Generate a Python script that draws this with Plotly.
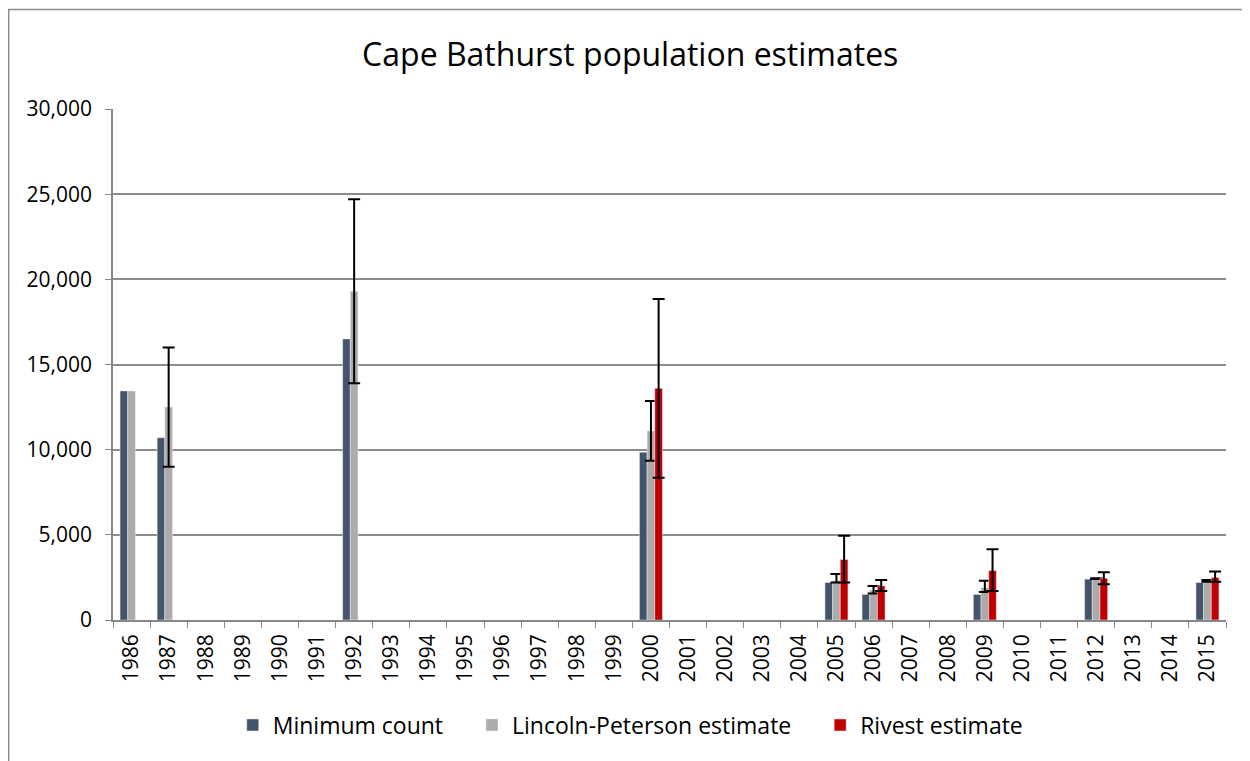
import plotly.graph_objects as go

years = [str(y) for y in range(1986, 2016)]

min_count = {"1986": 13450, "1987": 10700, "1992": 16500, "2000": 9850,
             "2005": 2200, "2006": 1500, "2009": 1500, "2012": 2400, "2015": 2200}
lp_est = {"1986": 13450, "1987": 12500, "1992": 19300, "2000": 11100,
          "2005": 2300, "2006": 1750, "2009": 1900, "2012": 2400, "2015": 2300}
lp_upper = {"1987": 16000, "1992": 24700, "2000": 12850, "2005": 2700,
            "2006": 2000, "2009": 2300, "2012": 2450, "2015": 2350}
lp_lower = {"1987": 9000, "1992": 13900, "2000": 9350, "2005": 2200,
            "2006": 1550, "2009": 1650, "2012": 2400, "2015": 2250}
rivest = {"2000": 13600, "2005": 3550, "2006": 2000, "2009": 2900,
          "2012": 2450, "2015": 2500}
riv_upper = {"2000": 18850, "2005": 4950, "2006": 2350, "2009": 4150,
             "2012": 2800, "2015": 2850}
riv_lower = {"2000": 8350, "2005": 2200, "2006": 1700, "2009": 1700,
             "2012": 2100, "2015": 2250}

y_ticks = [0, 5000, 10000, 15000, 20000, 25000, 30000]


def series(d):
    return [d.get(y) for y in years]


def err_plus(vals, upper):
    # "NaN" strings make plotly.js skip the error bar entirely
    return [(upper[y] - vals[y]) if y in upper else "NaN" for y in years]


def err_minus(vals, lower):
    return [(vals[y] - lower[y]) if y in lower else "NaN" for y in years]


FONT = "Open Sans"
PAD = "\u00a0" * 4
err_style = dict(type="data", symmetric=False, color="black", thickness=2, width=6)

fig = go.Figure()
fig.add_trace(go.Bar(x=years, y=series(min_count), name="Minimum count" + PAD,
                     marker_color="#44546A"))
fig.add_trace(go.Bar(x=years, y=series(lp_est), name="Lincoln-Peterson estimate" + PAD,
                     marker_color="#AEAAAA",
                     error_y=dict(array=err_plus(lp_est, lp_upper),
                                  arrayminus=err_minus(lp_est, lp_lower), **err_style)))
fig.add_trace(go.Bar(x=years, y=series(rivest), name="Rivest estimate",
                     marker_color="#C00000",
                     error_y=dict(array=err_plus(rivest, riv_upper),
                                  arrayminus=err_minus(rivest, riv_lower), **err_style)))

fig.update_layout(
    width=1242, height=753,
    paper_bgcolor="white", plot_bgcolor="white",
    barmode="group", bargap=0.38, bargroupgap=0,
    margin=dict(l=105, r=24, t=101, b=141, pad=0),
    font=dict(family=FONT, color="black"),
    title=dict(text="Cape Bathurst population estimates", x=0.501, xref="container",
               xanchor="center", y=0.9376, yref="container", yanchor="middle",
               font=dict(size=32, family=FONT, color="black")),
    legend=dict(orientation="h", x=0.5014, xref="container", xanchor="center",
                y=0.0478, yref="container", yanchor="middle",
                font=dict(size=23, family=FONT), traceorder="normal"),
    showlegend=True,
)
fig.update_xaxes(type="category", categoryorder="array", categoryarray=years,
                 tickangle=-90, tickson="boundaries", ticks="outside", ticklen=6,
                 tickcolor="#888888", showline=True, linecolor="#888888", linewidth=1.5,
                 showgrid=False, tickfont=dict(size=21, family=FONT),
                 ticklabelstandoff=4)
fig.update_yaxes(range=[0, 30000], tickvals=y_ticks, tickformat=",", ticks="outside",
                 ticklen=6, tickcolor="#888888", showline=True, linecolor="#888888",
                 linewidth=1.5, showgrid=True, gridcolor="#8C8C8C", gridwidth=1.5,
                 zeroline=False, tickfont=dict(size=21, family=FONT),
                 ticklabelstandoff=9)

fig.add_shape(type="rect", xref="paper", yref="paper",
              x0=-0.0937, x1=1.3, y0=-0.6, y1=1.1947,
              line=dict(color="#8C8C8C", width=1.5), fillcolor="rgba(0,0,0,0)")

fig.write_html("out.html")
